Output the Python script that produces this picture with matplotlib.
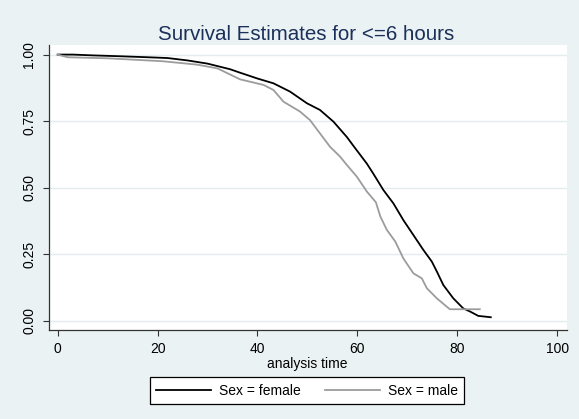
import matplotlib
matplotlib.use("Agg")
import matplotlib.pyplot as plt

# ---- data ----
female_t = [0, 3, 7, 12, 18, 22, 26, 30, 34.5, 36.5, 40, 43.2, 46.5, 49.9,
            52.5, 55.2, 57.9, 59.2, 61.9, 63.2, 65.2, 67.2, 69.2, 71.2, 73.2,
            74.9, 75.9, 77.2, 79.2, 81.2, 82.6, 84.2, 86.7]
female_s = [1.0, 1.0, 0.997, 0.994, 0.99, 0.987, 0.978, 0.966, 0.945, 0.932,
            0.91, 0.892, 0.861, 0.817, 0.792, 0.748, 0.69, 0.657, 0.59,
            0.552, 0.491, 0.441, 0.378, 0.322, 0.266, 0.222, 0.185, 0.134,
            0.084, 0.046, 0.034, 0.018, 0.013]

male_t = [0, 2, 10, 21, 28, 32, 36.5, 41.2, 43.2, 45.2, 48.5, 50.5, 52.5,
          54.5, 56.5, 57.9, 59.9, 61.9, 63.7, 64.6, 65.9, 67.6, 69.2, 71.2,
          72.9, 73.9, 75.9, 78.5, 84.5]
male_s = [1.0, 0.99, 0.986, 0.975, 0.962, 0.948, 0.907, 0.886, 0.867, 0.823,
          0.786, 0.754, 0.704, 0.654, 0.617, 0.585, 0.541, 0.485, 0.445,
          0.391, 0.341, 0.297, 0.234, 0.178, 0.159, 0.122, 0.084, 0.043, 0.043]

x_ticks = [0, 20, 40, 60, 80, 100]
y_ticks = [0.0, 0.25, 0.5, 0.75, 1.0]
y_ticklabels = ["0.00", "0.25", "0.50", "0.75", "1.00"]
series_labels = ["Sex = female", "Sex = male"]
title = "Survival Estimates for <=6 hours"
xlabel = "analysis time"

plt.rcParams['font.family'] = ['Liberation Sans', 'DejaVu Sans']

W, H = 579, 419
bg = "#EAF2F3"
fig = plt.figure(figsize=(W / 100, H / 100), dpi=100, facecolor=bg)
ax = fig.add_axes([48.7 / W, 1 - 330 / H, (566.7 - 48.7) / W, (330 - 45) / H])
ax.set_facecolor("white")

for yv in y_ticks:
    ax.axhline(yv, color="#E3ECEF", lw=1.0, zorder=0)

ax.plot(female_t, female_s, color="black", lw=1.3, label=series_labels[0])
ax.plot(male_t, male_s, color="#9C9C9C", lw=1.3, label=series_labels[1])

ax.set_xlim(-1.8, 101.9)
ax.set_ylim(-0.035, 1.036)
ax.set_xticks(x_ticks)
ax.set_yticks(y_ticks)
ax.set_yticklabels(y_ticklabels, rotation=90, va="center")
ax.tick_params(axis="both", direction="out", length=4, width=0.8,
               color="#333333", labelsize=10, labelcolor="black")
ax.tick_params(axis="y", pad=5)
ax.tick_params(axis="x", pad=4.5)
for s in ["top", "right"]:
    ax.spines[s].set_visible(False)
for s in ["left", "bottom"]:
    ax.spines[s].set_color("#333333")
    ax.spines[s].set_linewidth(0.9)

ax.set_xlabel(xlabel, fontsize=10, labelpad=1)

fig.text(306.5 / W, 1 - 40 / H, title, ha="center", va="baseline",
         fontsize=14.8, color="#1A2F5A")

leg = fig.legend(loc="center", bbox_to_anchor=(307.2 / W, 1 - 390.5 / H),
                 ncol=2, frameon=True, fancybox=False, fontsize=10,
                 handlelength=3.95, handletextpad=0.58, columnspacing=1.73,
                 borderpad=0.45, edgecolor="black", facecolor="white")
leg.get_frame().set_linewidth(0.9)
leg.get_frame().set_alpha(1)

fig.savefig("out.png", dpi=100, facecolor=bg)
